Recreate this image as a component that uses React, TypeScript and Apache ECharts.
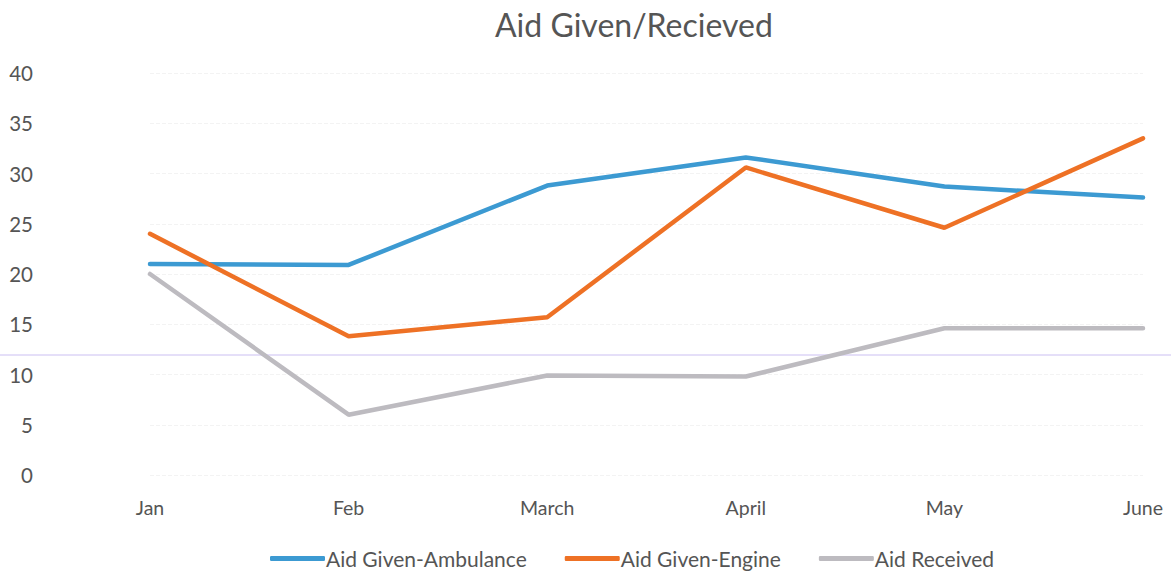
import React, { useEffect, useRef } from "react";
import * as echarts from "echarts";

const categories = ["Jan", "Feb", "March", "April", "May", "June"];
const ambulance = [21.0, 20.9, 28.8, 31.6, 28.7, 27.6];
const engine = [24.0, 13.8, 15.7, 30.6, 24.6, 33.5];
const received = [20.0, 6.0, 9.9, 9.8, 14.6, 14.6];
const seriesNames = ["Aid Given-Ambulance", "Aid Given-Engine", "Aid Received"];
const colors = ["#3C9AD2", "#EE7125", "#BDBBC0"];

export default function App() {
  const ref = useRef<HTMLDivElement>(null);
  useEffect(() => {
    if (!ref.current) return;
    const chart = echarts.init(ref.current, null, { renderer: "svg" });
    const font = "Lato, 'Open Sans', sans-serif";
    const mk = (name: string, data: number[], color: string) => ({
      name,
      type: "line",
      data,
      symbol: "none",
      lineStyle: { width: 4.5, color, cap: "round" },
      itemStyle: { color },
    });
    chart.setOption({
      animation: false,
      backgroundColor: "#ffffff",
      title: {
        text: "Aid Given/Recieved",
        left: 490,
        top: 3,
        textStyle: { fontFamily: font, fontSize: 32, fontWeight: "normal", color: "#555555" },
      },
      legend: {
        bottom: 0,
        left: 265,
        itemWidth: 55,
        itemHeight: 5,
        itemGap: 38,
        icon: "roundRect",
        textStyle: { fontFamily: font, fontSize: 21, color: "#555555", padding: [0, 0, 0, -4] },
        data: seriesNames,
      },
      grid: { left: 150, right: 28, top: 73, bottom: 99, containLabel: false },
      xAxis: {
        type: "category",
        data: categories,
        boundaryGap: false,
        axisLine: { show: false },
        axisTick: { show: false },
        axisLabel: { margin: 22, fontFamily: font, fontSize: 19.5, color: "#555555" },
      },
      yAxis: {
        type: "value",
        min: 0,
        max: 40,
        interval: 5,
        axisLine: { show: false },
        axisTick: { show: false },
        splitLine: { lineStyle: { color: "#f3f3f3", type: "dashed" } },
        axisLabel: { margin: 117, fontFamily: font, fontSize: 20.5, color: "#555555" },
      },
      graphic: [
        {
          type: "line",
          shape: { x1: 0, y1: 355, x2: 1171, y2: 355 },
          style: { stroke: "#CBBFF2", lineWidth: 1 },
          silent: true,
        },
      ],
      series: [
        mk(seriesNames[0], ambulance, colors[0]),
        mk(seriesNames[1], engine, colors[1]),
        mk(seriesNames[2], received, colors[2]),
      ],
    });
    return () => chart.dispose();
  }, []);
  return <div ref={ref} style={{ width: 1171, height: 574, position: "absolute", left: 0, top: 0 }} />;
}
